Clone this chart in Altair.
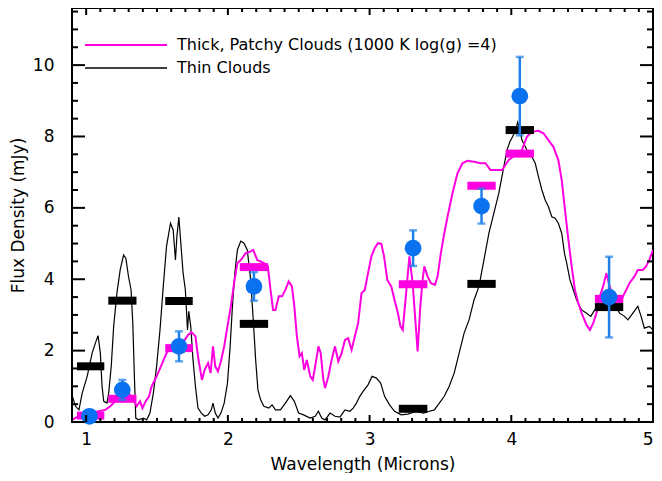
import altair as alt
import pandas as pd

# ---------------- data ----------------
thin_x = [0.902, 0.925, 0.949, 0.972, 1.007, 1.042, 1.065, 1.084, 1.100, 1.112, 1.124, 1.147, 1.159,
          1.177, 1.194, 1.217, 1.240, 1.264, 1.280, 1.299, 1.317, 1.329, 1.341, 1.350, 1.369, 1.404,
          1.427, 1.450, 1.474, 1.497, 1.521, 1.544, 1.567, 1.595, 1.614, 1.630, 1.640, 1.654, 1.668,
          1.684, 1.700, 1.715, 1.724, 1.738, 1.754, 1.771, 1.789, 1.813, 1.836, 1.860, 1.883, 1.895,
          1.911, 1.930, 1.951, 1.974, 1.997, 2.016, 2.032, 2.049, 2.067, 2.091, 2.114, 2.137, 2.161,
          2.179, 2.196, 2.212, 2.231, 2.254, 2.289, 2.312, 2.336, 2.371, 2.406, 2.441, 2.469, 2.499,
          2.534, 2.581, 2.616, 2.639, 2.662, 2.686, 2.721, 2.756, 2.791, 2.826, 2.861, 2.884, 2.907,
          2.931, 2.954, 2.989, 3.018, 3.048, 3.078, 3.106, 3.141, 3.176, 3.223, 3.27, 3.33, 3.38,
          3.422, 3.457, 3.492, 3.527, 3.562, 3.597, 3.632, 3.667, 3.702, 3.737, 3.772, 3.807, 3.842,
          3.877, 3.912, 3.947, 3.970, 3.990, 4.010, 4.030, 4.045, 4.060, 4.075, 4.110, 4.145, 4.169,
          4.192, 4.216, 4.239, 4.262, 4.286, 4.309, 4.332, 4.356, 4.375, 4.391, 4.414, 4.438, 4.461,
          4.496, 4.531, 4.561, 4.589, 4.613, 4.659, 4.700, 4.729, 4.764, 4.799, 4.823, 4.858, 4.893,
          4.916, 4.939, 4.974, 5.000]
thin_y = [0.72, 0.44, 0.34, 0.81, 1.28, 1.93, 2.21, 2.42, 1.93, 1.00, 0.58, 0.53, 0.81,
          1.56, 2.68, 3.61, 4.26, 4.68, 4.59, 4.07, 3.70, 2.77, 1.18, 0.11, 0.06, 0.11,
          0.06, 0.25, 0.81, 1.56, 2.58, 3.80, 4.92, 5.57, 5.38, 4.54, 5.19, 5.74, 5.01,
          4.17, 3.70, 2.58, 3.10, 2.68, 1.74, 1.00, 0.39, 0.25, 0.16, 0.20, 0.34, 0.53,
          0.25, 0.11, 0.25, 0.53, 1.09, 2.12, 3.24, 4.17, 4.82, 5.07, 5.01, 4.82, 3.98,
          2.86, 1.74, 0.90, 0.62, 0.44, 0.39, 0.48, 0.34, 0.34, 0.53, 0.74, 0.58, 0.25,
          0.20, 0.11, 0.16, 0.30, 0.11, 0.06, 0.25, 0.16, 0.14, 0.34, 0.30, 0.39, 0.53,
          0.72, 0.86, 1.04, 1.28, 1.23, 1.09, 0.72, 0.48, 0.30, 0.20, 0.22, 0.30, 0.25,
          0.30, 0.34, 0.53, 0.72, 1.00, 1.37, 1.93, 2.49, 2.86, 3.42, 3.80, 4.54, 5.29,
          5.85, 6.41, 7.15, 7.62, 7.85, 8.00, 8.18, 8.40, 8.20, 7.90, 7.62, 7.43, 7.25,
          6.87, 6.50, 6.22, 6.03, 5.75, 5.71, 5.57, 5.29, 4.73, 4.45, 3.98, 3.70, 3.42,
          3.14, 3.05, 2.96, 3.14, 3.28, 3.33, 3.30, 3.28, 3.05, 2.96, 2.86, 3.05, 3.24,
          2.96, 2.63, 2.68, 2.58]

thick_x = [0.902, 0.937, 0.972, 1.042, 1.089, 1.135, 1.170, 1.205, 1.252, 1.299, 1.334, 1.357,
           1.380, 1.397, 1.420, 1.444, 1.462, 1.497, 1.532, 1.567, 1.602, 1.649, 1.696, 1.719,
           1.743, 1.771, 1.789, 1.817, 1.836, 1.860, 1.878, 1.895, 1.911, 1.930, 1.951, 1.974,
           1.997, 2.021, 2.044, 2.067, 2.091, 2.126, 2.161, 2.179, 2.207, 2.254, 2.282, 2.301,
           2.319, 2.336, 2.359, 2.382, 2.406, 2.429, 2.452, 2.469, 2.487, 2.506, 2.522, 2.539,
           2.557, 2.581, 2.599, 2.616, 2.639, 2.655, 2.674, 2.686, 2.709, 2.732, 2.756, 2.779,
           2.803, 2.826, 2.849, 2.873, 2.896, 2.919, 2.943, 2.966, 2.989, 3.013, 3.036, 3.059,
           3.083, 3.102, 3.125, 3.153, 3.176, 3.200, 3.218, 3.234, 3.258, 3.281, 3.304, 3.321,
           3.339, 3.358, 3.374, 3.386, 3.409, 3.433, 3.461, 3.480, 3.503, 3.527, 3.550, 3.585,
           3.620, 3.655, 3.690, 3.737, 3.783, 3.818, 3.853, 3.900, 3.935, 3.982, 4.028, 4.075,
           4.110, 4.145, 4.192, 4.227, 4.262, 4.297, 4.332, 4.356, 4.379, 4.403, 4.426, 4.449,
           4.473, 4.496, 4.531, 4.555, 4.578, 4.601, 4.625, 4.648, 4.671, 4.694, 4.729, 4.764,
           4.788, 4.811, 4.834, 4.869, 4.893, 4.928, 4.951, 4.974, 5.000]
thick_y = [0.06, 0.14, 0.20, 0.25, 0.30, 0.34, 0.44, 0.58, 0.76, 0.81, 0.62, 0.44,
           0.58, 0.39, 0.58, 0.72, 1.00, 1.28, 1.60, 1.93, 2.12, 2.16, 2.30, 2.44,
           2.52, 2.40, 1.84, 1.18, 1.46, 1.65, 1.37, 2.12, 1.56, 1.42, 1.70, 2.12,
           2.68, 3.24, 3.89, 4.45, 4.54, 4.73, 4.78, 4.82, 4.54, 4.45, 4.36, 3.70,
           3.14, 3.14, 3.52, 3.52, 3.70, 3.94, 3.80, 3.24, 2.40, 1.84, 1.93, 1.46,
           1.74, 1.28, 1.18, 1.56, 2.12, 1.93, 1.18, 0.95, 1.28, 1.74, 2.12, 1.70,
           1.93, 2.30, 2.35, 2.02, 2.40, 2.77, 3.61, 3.70, 4.17, 4.64, 4.87, 5.01,
           4.99, 4.64, 3.98, 3.80, 3.42, 3.05, 2.68, 2.58, 3.61, 4.64, 3.89, 2.96,
           1.98, 3.24, 3.98, 4.36, 4.08, 3.89, 3.84, 4.08, 4.73, 5.29, 5.75, 6.41,
           6.97, 7.25, 7.32, 7.29, 7.25, 7.25, 7.06, 7.06, 7.06, 7.34, 7.48, 7.62,
           7.99, 8.13, 8.16, 8.09, 7.90, 7.71, 7.34, 6.78, 5.94, 5.10, 4.36, 3.70,
           3.33, 3.05, 2.72, 2.58, 2.77, 3.05, 3.52, 3.80, 4.17, 3.80, 3.33, 3.24,
           3.52, 3.70, 3.89, 4.08, 4.26, 4.26, 4.36, 4.54, 4.82]

band_lo = [0.935, 1.156, 1.558, 2.084, 3.206, 3.690, 3.960, 4.590]
band_hi = [1.128, 1.355, 1.752, 2.284, 3.408, 3.890, 4.160, 4.790]
thick_band = [0.18, 0.65, 2.07, 4.34, 3.86, 6.62, 7.52, 3.45]
thin_band = [1.56, 3.40, 3.39, 2.75, 0.37, 3.87, 8.18, 3.22]

obs_x = [1.023, 1.255, 1.655, 2.184, 3.307, 3.790, 4.060, 4.690]
obs_y = [0.16, 0.90, 2.12, 3.80, 4.87, 6.05, 9.13, 3.50]
obs_err = [0.10, 0.28, 0.42, 0.40, 0.50, 0.49, 1.10, 1.13]

x_major = [1, 2, 3, 4, 5]
y_major = [0, 2, 4, 6, 8, 10]
x_minor = [round(0.9 + 0.1 * i, 2) for i in range(42) if round(0.9 + 0.1 * i, 2) not in x_major]
y_minor = [0.5 * i for i in range(24) if (0.5 * i) not in y_major]

legend_labels = ["Thick, Patchy Clouds (1000 K log(g) =4)", "Thin Clouds"]

MAG = "#ff00e0"
BLUE = "#0a72f0"
EBLUE = "#1f80e8"
FONT = "DejaVu Sans"
W, H = 581, 414

xs = alt.Scale(domain=[0.9, 5.0], nice=False, zero=False)
ys = alt.Scale(domain=[0, 11.6], nice=False, zero=False)

thin_df = pd.DataFrame({"x": thin_x, "y": thin_y})
thick_df = pd.DataFrame({"x": thick_x, "y": thick_y})
band_df = pd.DataFrame({"lo": band_lo, "hi": band_hi, "thick": thick_band, "thin": thin_band})
obs_df = pd.DataFrame({"x": obs_x, "y": obs_y, "err": obs_err})
obs_df["top"] = obs_df["y"] + obs_df["err"]
obs_df["bot"] = obs_df["y"] - obs_df["err"]

x_axis = alt.Axis(values=x_major, format="d", ticks=False, domain=False, grid=False,
                  labelFontSize=17, labelPadding=9, labelFont=FONT, labelColor="black",
                  title="Wavelength (Microns)", titleFontSize=17, titleFont=FONT,
                  titleFontWeight="normal", titlePadding=9, titleColor="black")
y_axis = alt.Axis(values=y_major, format="d", ticks=False, domain=False, grid=False,
                  labelFontSize=17, labelPadding=18, labelFont=FONT, labelColor="black",
                  title="Flux Density (mJy)", titleFontSize=17, titleFont=FONT,
                  titleFontWeight="normal", titlePadding=5, titleColor="black")


def X(field):
    return alt.X(field, scale=xs, axis=x_axis)


def Y(field):
    return alt.Y(field, scale=ys, axis=y_axis)


thin_line = alt.Chart(thin_df).mark_line(color="black", strokeWidth=1.2, clip=True).encode(
    x=X("x:Q"), y=Y("y:Q"))
thick_line = alt.Chart(thick_df).mark_line(color=MAG, strokeWidth=2, clip=True).encode(
    x=X("x:Q"), y=Y("y:Q"))
thin_bars = alt.Chart(band_df).mark_rule(color="black", strokeWidth=8, strokeCap="butt").encode(
    x=X("lo:Q"), x2="hi:Q", y=Y("thin:Q"))
thick_bars = alt.Chart(band_df).mark_rule(color=MAG, strokeWidth=8, strokeCap="butt").encode(
    x=X("lo:Q"), x2="hi:Q", y=Y("thick:Q"))
err_rule = alt.Chart(obs_df).mark_rule(color=EBLUE, strokeWidth=2.5).encode(
    x=X("x:Q"), y=Y("bot:Q"), y2="top:Q")
cap_top = alt.Chart(obs_df).mark_tick(color=EBLUE, orient="horizontal", size=8, thickness=2.5).encode(
    x=X("x:Q"), y=Y("top:Q"))
cap_bot = alt.Chart(obs_df).mark_tick(color=EBLUE, orient="horizontal", size=8, thickness=2.5).encode(
    x=X("x:Q"), y=Y("bot:Q"))
points = alt.Chart(obs_df).mark_circle(color=BLUE, size=280, opacity=1).encode(
    x=X("x:Q"), y=Y("y:Q"))


# inward ticks on all four sides
def xticks(vals, length):
    d = pd.DataFrame({"v": vals})
    base = alt.Chart(d).mark_rule(color="black", strokeWidth=2)
    b = base.encode(x=X("v:Q"), y=alt.value(H), y2=alt.value(H - length))
    t = base.encode(x=X("v:Q"), y=alt.value(0), y2=alt.value(length))
    return [b, t]


def yticks(vals, length):
    d = pd.DataFrame({"v": vals})
    base = alt.Chart(d).mark_rule(color="black", strokeWidth=2)
    l = base.encode(y=Y("v:Q"), x=alt.value(0), x2=alt.value(length))
    r = base.encode(y=Y("v:Q"), x=alt.value(W), x2=alt.value(W - length))
    return [l, r]


tick_layers = xticks(x_major, 7) + xticks(x_minor, 4) + yticks(y_major, 13) + yticks(y_minor, 6)

# legend
leg_layers = []
leg_colors = [MAG, "black"]
leg_widths = [2, 1.5]
for i, (lab, col) in enumerate(zip(legend_labels, leg_colors)):
    yy = 37 + 23 * i
    d = pd.DataFrame({"label": [lab]})
    leg_layers.append(alt.Chart(d).mark_rule(color=col, strokeWidth=leg_widths[i]).encode(
        x=alt.value(13), x2=alt.value(95), y=alt.value(yy)))
    leg_layers.append(alt.Chart(d).mark_text(align="left", baseline="middle", font=FONT,
                                             fontSize=16, color="black").encode(
        x=alt.value(105), y=alt.value(yy), text="label:N"))

chart = alt.layer(
    thin_line, thick_line, thin_bars, thick_bars, err_rule, cap_top, cap_bot, points,
    *tick_layers, *leg_layers
).properties(
    width=W, height=H,
    autosize=alt.AutoSizeParams(type="none"),
    padding={"left": 64, "top": 0, "right": 1, "bottom": 51},
).configure(background="white").configure_view(stroke="black", strokeWidth=2)

chart.save("out.html", embed_options={"renderer": "svg", "actions": False})
